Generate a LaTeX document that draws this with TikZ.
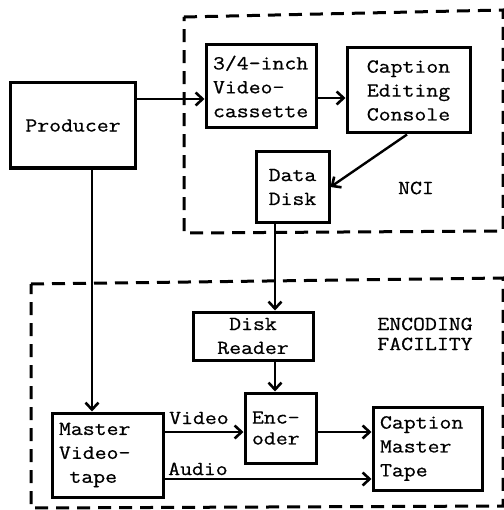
\documentclass[tikz,border=0pt]{standalone}
\usepackage{fontspec}
\setmonofont{Latin Modern Mono}[FakeStretch=1.16, FakeBold=0.7]
\usetikzlibrary{arrows.meta}
\begin{document}
\begin{tikzpicture}[x=1bp,y=-1bp,
  box/.style={draw, line width=3bp, inner sep=0pt, font=\ttfamily\fontsize{20}{24}\selectfont},
  arr/.style={line width=2.4bp, -{Straight Barb[length=7bp,width=13bp,line width=2.6bp]}},
  region/.style={line width=3bp, dash pattern=on 13bp off 8bp},
  lbl/.style={font=\ttfamily\fontsize{20}{20}\selectfont, inner sep=0pt}]
\useasboundingbox (0,0) rectangle (504,510);
% regions
\draw[region] (184,17) -- (503,10) -- (503,231) -- (184,233) -- cycle;
\draw[region] (31,284) -- (503,278) -- (503,506) -- (31,508) -- cycle;
% boxes
\node[box, minimum width=124bp, minimum height=85bp] (prod) at (73,125.5) {Producer};
\node[box, minimum width=110bp, minimum height=83bp, text width=96bp, align=left] (vc) at (261,86.5) {3/4-inch\\Video-\\cassette};
\node[box, minimum width=123bp, minimum height=85bp, align=center] (cec) at (408.5,90.5) {Caption\\Editing\\Console};
\node[box, minimum width=73bp, minimum height=70bp, align=center] (dd) at (292.5,187) {Data\\Disk};
\node[box, minimum width=120bp, minimum height=48bp, align=center] (dr) at (253,336) {Disk\\Reader};
\node[box, minimum width=71bp, minimum height=70bp, text width=57bp, align=left, font=\ttfamily\fontsize{20}{21}\selectfont] (enc) at (280.5,428) {Enc-\\oder};
\node[box, minimum width=111bp, minimum height=84bp, text width=97bp, align=left] (mvt) at (107.5,455) {Master\\Video-\\\hspace*{0.525em}tape};
\node[box, minimum width=109bp, minimum height=83bp, text width=95bp, align=left] (cmt) at (427.5,448.5) {Caption\\Master\\Tape};
% labels
\node[lbl] (nci) at (416,188) {NCI};
\node[lbl, align=center] (enf) at (425,334) {ENCODING\\FACILITY};
\node[lbl, anchor=base west] (vlab) at (169,424) {Video};
\node[lbl, anchor=base west] (alab) at (168,475) {Audio};
% helper coordinates
\coordinate (y99) at (0,99);
\coordinate (y98) at (0,98);
\coordinate (y432) at (0,432);
\coordinate (y479) at (0,479);
\coordinate (x275) at (275,0);
\coordinate (x92) at (92,0);
\coordinate (x407) at (407,0);
% connectors
\draw[arr] (prod.east |- y99) -- (vc.west |- y99);
\draw[arr] (vc.east |- y98) -- (cec.west |- y98);
\draw[arr] (cec.south -| x407) -- (dd.east);
\draw[arr] (dd.south -| x275) -- (dr.north -| x275);
\draw[arr] (dr.south -| x275) -- (enc.north -| x275);
\draw[arr] (prod.south -| x92) -- (mvt.north -| x92);
\draw[arr] (mvt.east |- y432) -- (enc.west |- y432);
\draw[arr] (enc.east |- y432) -- (cmt.west |- y432);
\draw[arr] (mvt.east |- y479) -- (cmt.west |- y479);
\end{tikzpicture}
\end{document}
